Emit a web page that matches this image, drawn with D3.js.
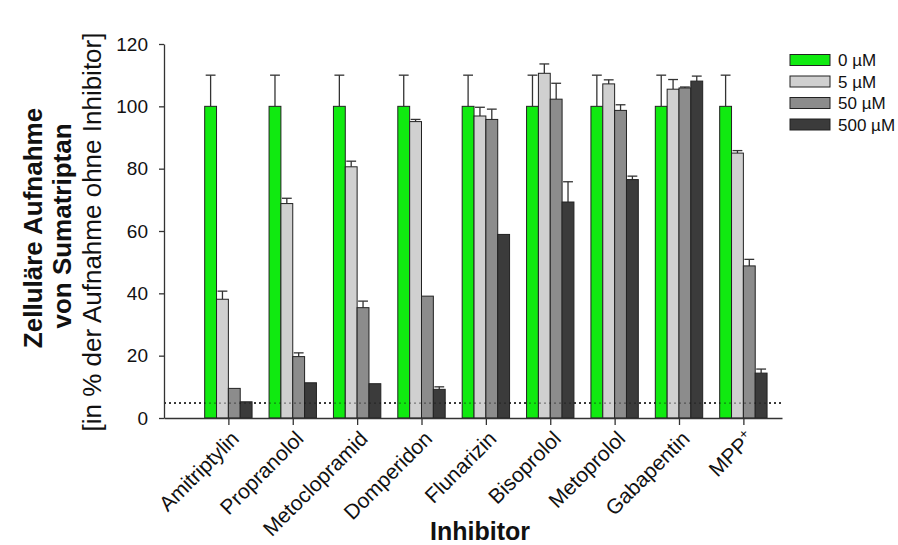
<!DOCTYPE html>
<html>
<head>
<meta charset="utf-8">
<script src="https://cdn.jsdelivr.net/npm/d3@7"></script>
<style>
  html, body { margin: 0; padding: 0; background: #fff; }
  svg { display: block; font-family: Arial, "Liberation Sans", Helvetica, sans-serif; }
</style>
</head>
<body>
<svg id="chart" width="898" height="545"></svg>
<script>
// ---- data ----
const categories = ["Amitriptylin", "Propranolol", "Metoclopramid", "Domperidon", "Flunarizin", "Bisoprolol", "Metoprolol", "Gabapentin", "MPP+"];
const seriesNames = ["0 µM", "5 µM", "50 µM", "500 µM"];
const values0   = [100, 100, 100, 100, 100, 100, 100, 100, 100];
const values5   = [38.1, 68.8, 80.6, 95.1, 96.9, 110.6, 107.2, 105.5, 85.0];
const values50  = [9.5, 19.7, 35.4, 39.1, 95.8, 102.3, 98.7, 105.9, 48.8];
const values500 = [5.2, 11.3, 11.0, 9.2, 58.9, 69.3, 76.5, 108.1, 14.4];
const err0   = [10, 10, 10, 10, 10, 10, 10, 10, 10];
const err5   = [2.6, 1.7, 1.8, 0.7, 2.8, 3.0, 1.3, 3.1, 0.8];
const err50  = [0, 1.2, 2.1, 0, 3.3, 5.1, 1.8, 0.3, 2.1];
const err500 = [0, 0, 0, 0.8, 0, 6.5, 1.1, 1.6, 1.3];
const yTicks = [0, 20, 40, 60, 80, 100, 120];
const detectionLimit = 4.8;

const seriesValues = [values0, values5, values50, values500];
const seriesErrors = [err0, err5, err50, err500];
const colors = ["#10ea10", "#d0d0d0", "#8c8c8c", "#3b3b3b"];

// ---- layout ----
const svg = d3.select("#chart");
const mLeft = 164, mRight = 782, mTop = 44, mBottom = 418;

const x = d3.scaleLinear().domain([0, 9.6]).range([mLeft, mRight]);
const y = d3.scaleLinear().domain([0, 120]).range([mBottom, mTop]);
const barW = 0.184; // in category units

const rows = [];
categories.forEach((c, gi) => {
  seriesValues.forEach((vals, si) => {
    rows.push({ gi, si, v: vals[gi], e: seriesErrors[si][gi] });
  });
});
const bx = d => x(d.gi + 1 + (d.si - 2) * barW);
const bw = x(barW) - x(0);

// dotted line (detection limit)
svg.append("line")
  .attr("x1", x(0)).attr("x2", x(9.6))
  .attr("y1", y(detectionLimit)).attr("y2", y(detectionLimit))
  .attr("stroke", "#111").attr("stroke-width", 1.6)
  .attr("stroke-dasharray", "2,3");

// error bars (upper only)
const eb = svg.append("g").selectAll("g").data(rows.filter(d => d.e > 0)).join("g")
  .attr("stroke", "#333").attr("stroke-width", 1.3);
eb.append("line")
  .attr("x1", d => bx(d) + bw / 2).attr("x2", d => bx(d) + bw / 2)
  .attr("y1", d => y(d.v)).attr("y2", d => y(d.v + d.e));
eb.append("line")
  .attr("x1", d => bx(d) + 1).attr("x2", d => bx(d) + bw - 1)
  .attr("y1", d => y(d.v + d.e)).attr("y2", d => y(d.v + d.e));

// bars
svg.append("g").selectAll("rect").data(rows).join("rect")
  .attr("x", d => bx(d))
  .attr("y", d => y(d.v))
  .attr("width", bw)
  .attr("height", d => y(0) - y(d.v))
  .attr("fill", d => colors[d.si])
  .attr("stroke", "#222").attr("stroke-width", 1);

// dotted line faintly visible across bars
svg.append("line")
  .attr("x1", x(0)).attr("x2", x(9.6))
  .attr("y1", y(detectionLimit)).attr("y2", y(detectionLimit))
  .attr("stroke", "#111").attr("stroke-width", 1.2).attr("opacity", 0.45)
  .attr("stroke-dasharray", "2,3");

// y axis
const yAxis = svg.append("g").attr("transform", `translate(${mLeft},0)`)
  .call(d3.axisLeft(y).tickValues(yTicks).tickSize(5).tickPadding(11).tickSizeOuter(0));
yAxis.select(".domain").attr("stroke", "#333").attr("stroke-width", 1.3);
yAxis.selectAll(".tick line").attr("stroke", "#333").attr("stroke-width", 1.3);
yAxis.selectAll(".tick text").attr("font-size", 19).attr("fill", "#111")
  .attr("font-family", "Arial, 'Liberation Sans', sans-serif");

// x axis
const xAxis = svg.append("g").attr("transform", `translate(0,${mBottom})`)
  .call(d3.axisBottom(x).tickValues(d3.range(1, categories.length + 1))
    .tickFormat(() => "").tickSize(7).tickSizeOuter(0));
xAxis.select(".domain").attr("stroke", "#333").attr("stroke-width", 1.3);
xAxis.selectAll(".tick line").attr("stroke", "#333").attr("stroke-width", 1.3);

// category labels
const catLabels = svg.append("g").selectAll("text").data(categories).join("text")
  .attr("transform", (d, i) => `translate(${x(i + 1) + 12},${mBottom + 22}) rotate(-45)`)
  .attr("text-anchor", "end")
  .attr("font-size", 21)
  .attr("fill", "#111");
catLabels.each(function (d) {
  const t = d3.select(this);
  if (d.endsWith("+")) {
    t.append("tspan").text(d.slice(0, -1));
    t.append("tspan").attr("font-size", 14).attr("dy", -8).text("+");
  } else {
    t.text(d);
  }
});

// x title
svg.append("text")
  .attr("x", 480).attr("y", 540)
  .attr("text-anchor", "middle")
  .attr("font-size", 25).attr("font-weight", "bold").attr("fill", "#111")
  .text("Inhibitor");

// y title (3 lines)
const yTitle = [
  { t: "Zelluläre Aufnahme", x: 42, cy: 228, w: "bold" },
  { t: "von Sumatriptan", x: 71, cy: 226, w: "bold" },
  { t: "[in % der Aufnahme ohne Inhibitor]", x: 101, cy: 232, w: "normal" }
];
svg.append("g").selectAll("text").data(yTitle).join("text")
  .attr("transform", d => `translate(${d.x},${d.cy}) rotate(-90)`)
  .attr("text-anchor", "middle")
  .attr("font-size", 26)
  .attr("font-weight", d => d.w)
  .attr("fill", "#111")
  .text(d => d.t);

// legend
const lg = svg.append("g").selectAll("g").data(seriesNames).join("g")
  .attr("transform", (d, i) => `translate(790,${60 + i * 21.5})`);
lg.append("rect")
  .attr("x", 0).attr("y", -5.5).attr("width", 40).attr("height", 11)
  .attr("fill", (d, i) => colors[i])
  .attr("stroke", "#222").attr("stroke-width", 1);
lg.append("text")
  .attr("x", 48).attr("y", 0).attr("dy", "0.36em")
  .attr("font-size", 17).attr("fill", "#111")
  .text(d => d);
</script>
</body>
</html>
